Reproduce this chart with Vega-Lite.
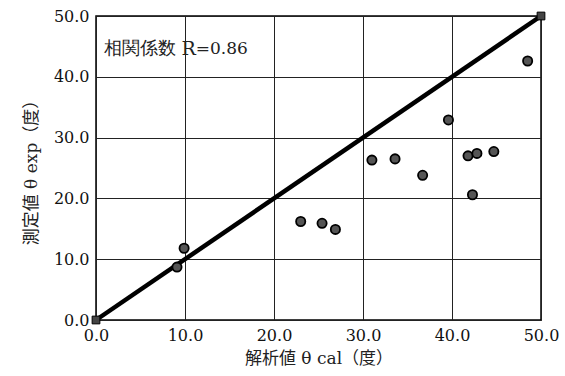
{
  "$schema": "https://vega.github.io/schema/vega-lite/v6.json",
  "width": 445,
  "height": 304,
  "autosize": "none",
  "padding": {"left": 96, "top": 16, "right": 24, "bottom": 56},
  "background": "white",
  "config": {
    "view": {"stroke": "black", "strokeWidth": 1.5},
    "font": "DejaVu Serif",
    "axis": {
      "labelFont": "DejaVu Serif",
      "labelFontSize": 16,
      "labelColor": "#111",
      "labelFlush": false,
      "titleFont": "DejaVu Serif, Noto Sans CJK JP",
      "titleFontSize": 17,
      "titleFontWeight": "normal",
      "titleColor": "#222",
      "gridColor": "#222",
      "gridOpacity": 1,
      "gridWidth": 1,
      "ticks": false,
      "domain": false,
      "labelPadding": 7
    }
  },
  "datasets": {
    "pts": [
      {"x": 9.1, "y": 8.7},
      {"x": 9.9, "y": 11.8},
      {"x": 23.0, "y": 16.2},
      {"x": 25.4, "y": 15.9},
      {"x": 26.9, "y": 14.9},
      {"x": 31.0, "y": 26.3},
      {"x": 33.6, "y": 26.5},
      {"x": 36.7, "y": 23.8},
      {"x": 39.6, "y": 32.9},
      {"x": 41.8, "y": 27.0},
      {"x": 42.8, "y": 27.4},
      {"x": 42.3, "y": 20.6},
      {"x": 44.7, "y": 27.7},
      {"x": 48.5, "y": 42.6}
    ],
    "fit": [
      {"x": 0, "y": 0},
      {"x": 50, "y": 50}
    ],
    "ann": [
      {"x": 0.9, "y": 44.5, "t": "相関係数", "f": "Noto Sans CJK JP", "s": "normal", "z": 18},
      {"x": 9.6, "y": 44.5, "t": "R", "f": "Liberation Serif", "s": "italic", "z": 19},
      {"x": 11.2, "y": 44.5, "t": "=0.86", "f": "DejaVu Serif", "s": "normal", "z": 17}
    ]
  },
  "layer": [
    {
      "data": {"name": "fit"},
      "mark": {"type": "line", "color": "black", "strokeWidth": 4.5, "clip": false},
      "encoding": {
        "x": {
          "field": "x", "type": "quantitative",
          "scale": {"domain": [0, 50], "nice": false},
          "axis": {"values": [0, 10, 20, 30, 40, 50], "format": ".1f", "title": "解析値 θ cal（度）", "titlePadding": 7}
        },
        "y": {
          "field": "y", "type": "quantitative",
          "scale": {"domain": [0, 50], "nice": false},
          "axis": {"values": [0, 10, 20, 30, 40, 50], "format": ".1f", "title": "測定値 θ exp（度）", "titlePadding": 13}
        }
      }
    },
    {
      "data": {"name": "fit"},
      "mark": {"type": "square", "color": "#444", "stroke": "black", "strokeWidth": 1, "filled": true, "opacity": 1, "size": 60, "clip": false},
      "encoding": {
        "x": {"field": "x", "type": "quantitative"},
        "y": {"field": "y", "type": "quantitative"}
      }
    },
    {
      "data": {"name": "pts"},
      "mark": {"type": "circle", "fill": "#555", "stroke": "black", "strokeWidth": 1.8, "opacity": 1, "size": 85},
      "encoding": {
        "x": {"field": "x", "type": "quantitative"},
        "y": {"field": "y", "type": "quantitative"}
      }
    },
    {
      "data": {"name": "ann"},
      "mark": {"type": "text", "align": "left", "baseline": "middle", "color": "#222"},
      "encoding": {
        "x": {"field": "x", "type": "quantitative"},
        "y": {"field": "y", "type": "quantitative"},
        "text": {"field": "t"},
        "font": {"field": "f", "type": "nominal", "scale": null},
        "fontStyle": {"field": "s", "type": "nominal", "scale": null},
        "size": {"field": "z", "type": "quantitative", "scale": null}
      }
    }
  ]
}
